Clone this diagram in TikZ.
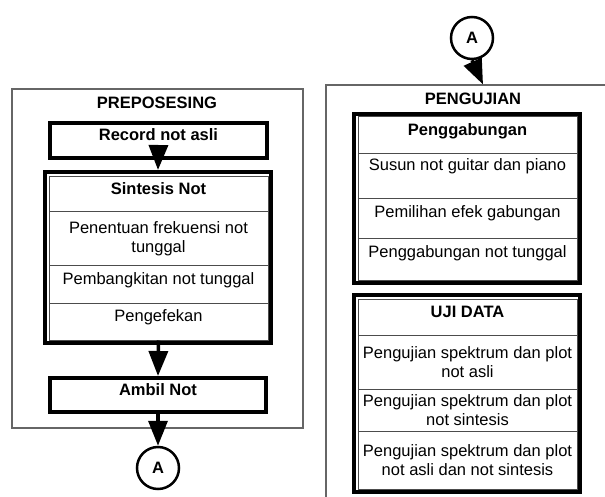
\documentclass[tikz,border=0pt]{standalone}
\usepackage{fontspec}
\setmainfont{Liberation Sans}
\usetikzlibrary{arrows.meta}
\begin{document}
\begin{tikzpicture}[x=1pt,y=-1pt,
  every node/.style={font=\fontsize{16.5}{19}\selectfont, inner sep=0pt},
  bold/.style={font=\fontsize{16.5}{19}\selectfont\bfseries},
  frame/.style={draw=black!60, line width=1.1pt},
  fat/.style={draw=black, line width=4pt},
  row/.style={draw=black!70, line width=1pt, minimum width=219pt, align=center},
  oneline/.style={text height=12pt, text depth=#1},
  arr/.style={line width=3.5pt, -{Triangle[length=25pt,width=19pt]}},
  conn/.style={circle, draw, line width=2.5pt, minimum size=42pt, bold}
]
\useasboundingbox (0,0) rectangle (605,497);
\clip (0,0) rectangle (605,497);
\fill[white] (0,0) rectangle (605,497);

% outer frames
\node[frame, minimum width=291pt, minimum height=339pt] (prep) at (157.5,258.5) {};
\node[frame, minimum width=314pt, minimum height=435pt] (peng) at (483,302.5) {};
\node[bold] (t1) at (157,103) {PREPOSESING};
\node[bold] (t2) at (473,99) {PENGUJIAN};

% left column
\node[fat, bold, minimum width=217pt, minimum height=35pt, oneline=12pt] (rec) at (158.5,140.5) {Record not asli};
\node[fat, minimum width=226pt, minimum height=171pt] (sin) at (158,257.5) {};
\node[row, bold, minimum height=35pt, oneline=12pt] (s1) at (158.5,194.5) {Sintesis Not};
\node[row, minimum height=53pt] (s2) at (158.5,238.5) {Penentuan frekuensi not\\tunggal};
\node[row, minimum height=38pt, oneline=12pt] (s3) at (158.5,284) {Pembangkitan not tunggal};
\node[row, minimum height=37pt, oneline=12pt] (s4) at (158.5,321.5) {Pengefekan};
\node[fat, bold, minimum width=216pt, minimum height=34pt, oneline=12pt] (amb) at (158,395) {Ambil Not};
\node[conn] (ca) at (158,468) {A};

% right column
\node[conn] (cb) at (472,38) {A};
\node[fat, minimum width=226pt, minimum height=169pt] (gab) at (467,198.5) {};
\node[row, bold, minimum height=37pt, oneline=12pt] (g1) at (467.5,135.5) {Penggabungan};
\node[row, minimum height=45pt, oneline=23pt] (g2) at (467.5,176.5) {Susun not guitar dan piano};
\node[row, minimum height=40pt, oneline=14pt] (g3) at (467.5,219) {Pemilihan efek gabungan};
\node[row, minimum height=41pt, oneline=15pt] (g4) at (467.5,259.5) {Penggabungan not tunggal};

\node[fat, minimum width=226pt, minimum height=197pt] (uji) at (467,393.5) {};
\node[row, bold, minimum height=36pt, oneline=11pt] (u1) at (467.5,317) {UJI DATA};
\node[row, minimum height=54pt] (u2) at (467.5,362) {Pengujian spektrum dan plot\\not asli};
\node[row, minimum height=42pt] (u3) at (467.5,410) {Pengujian spektrum dan plot\\not sintesis};
\node[row, minimum height=58pt] (u4) at (467.5,460) {Pengujian spektrum dan plot\\not asli dan not sintesis};

% connectors
\draw[arr, shorten <=5pt] (rec.center) -- (sin.north);
\draw[arr] (s4.south) -- (amb.north);
\draw[arr] (amb.south) -- (ca.north);
\draw[arr] (cb.south) -- (peng.north);
\end{tikzpicture}
\end{document}
